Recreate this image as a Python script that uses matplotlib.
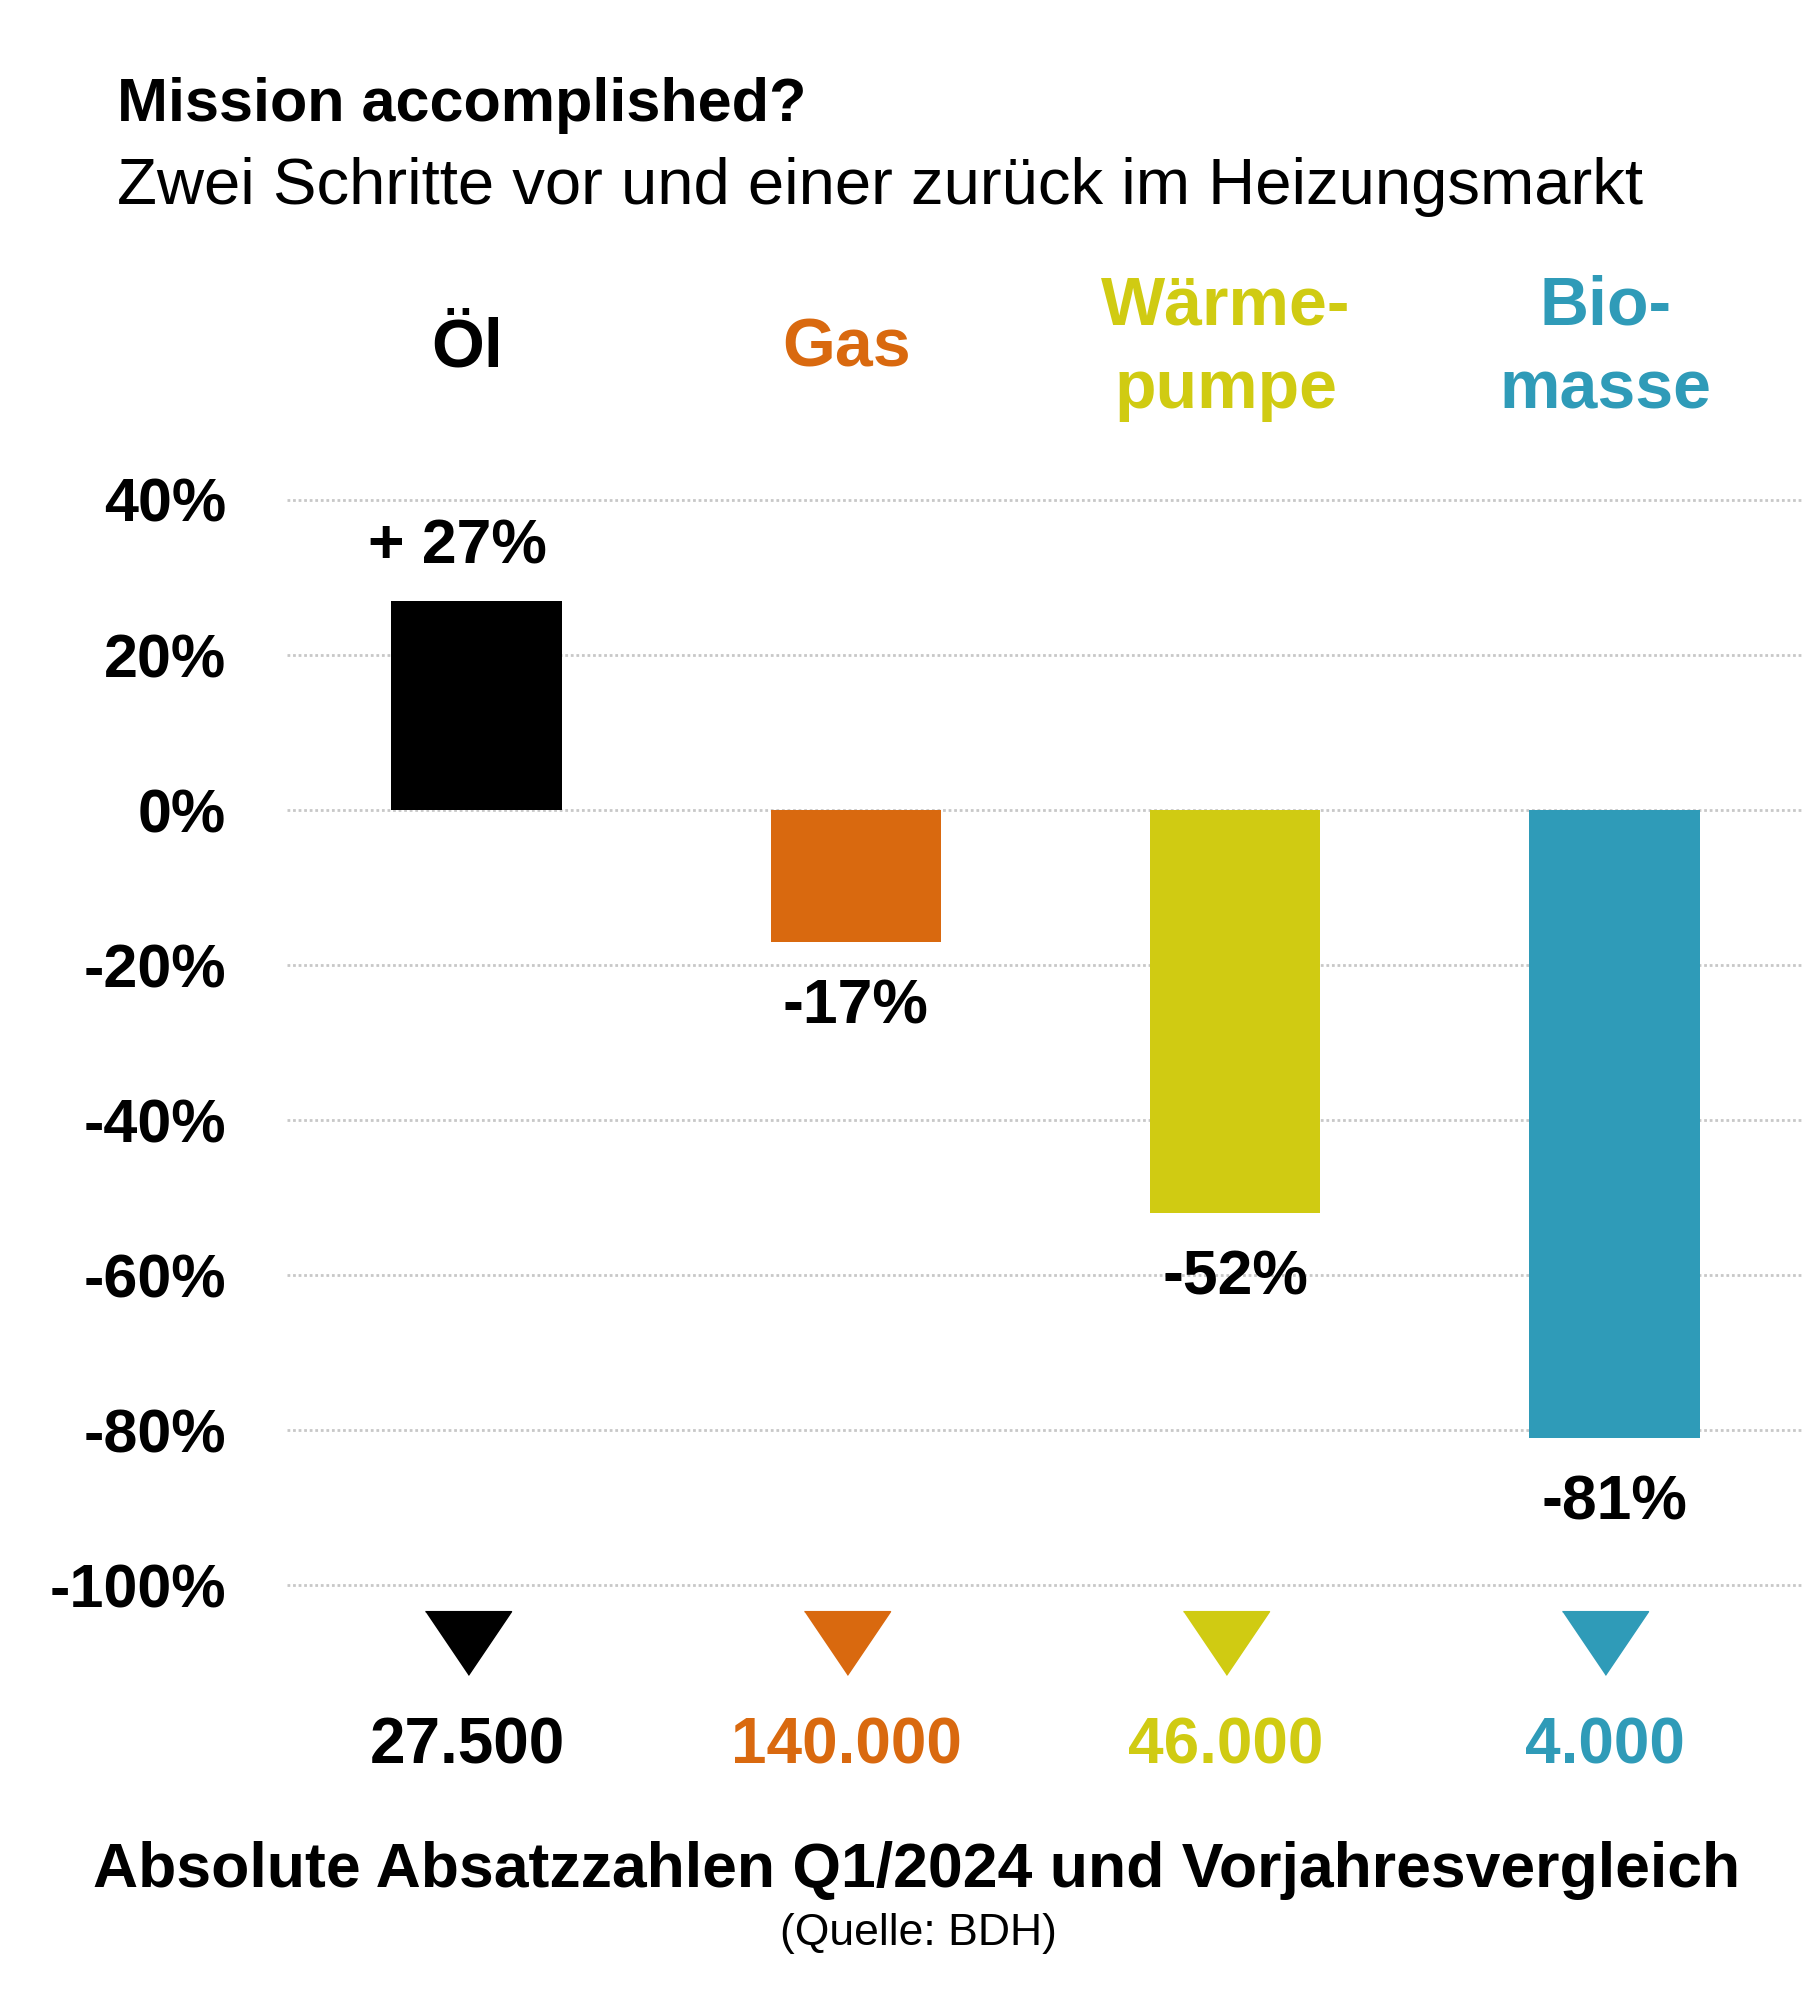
import matplotlib
matplotlib.use("Agg")
import matplotlib.pyplot as plt

plt.rcParams['font.family'] = ['Liberation Sans', 'DejaVu Sans']

# data
categories = ['Öl', 'Gas', 'Wärme-\npumpe', 'Bio-\nmasse']
change_pct = [27, -17, -52, -81]
change_labels = ['+ 27%', '-17%', '-52%', '-81%']
sales_q1_2024 = ['27.500', '140.000', '46.000', '4.000']
colors = ['#000000', '#D9690F', '#D0CB12', '#2F9BB8']
yticks = [40, 20, 0, -20, -40, -60, -80, -100]
ytick_labels = ['40%', '20%', '0%', '-20%', '-40%', '-60%', '-80%', '-100%']

fig = plt.figure(figsize=(18.04, 20), dpi=100)
ax = fig.add_axes([287 / 1804, 0.15, 1 - 287 / 1804, 0.70])

x = list(range(len(categories)))
ax.set_xlim(-0.5, 3.5)
ax.set_ylim(-114.8, 65.8)

# dotted gridlines
for t in yticks:
    ax.axhline(t, color='#c8c8c8', lw=2, ls=(0, (1, 1)), zorder=0)

ax.bar(x, change_pct, width=0.45, color=colors, zorder=2)

# value labels
for xi, v, lab in zip(x, change_pct, change_labels):
    off = (-14, 39) if v > 0 else (0, -47)
    ax.annotate(lab, (xi, v), xytext=off, textcoords='offset points',
                ha='center', va='center', fontsize=45, fontweight='bold')

# headers, triangles and absolute numbers sit slightly left of bar centres
shift = -0.024
tri = [(-1, 0.74), (1, 0.74), (0, -0.74)]
for xi, cat, n, c in zip(x, categories, sales_q1_2024, colors):
    ax.text(xi + shift, 59.6, cat, ha='center', va='center', fontsize=49,
            fontweight='bold', color=c, linespacing=1.4, clip_on=False)
    ax.plot(xi + shift, -107.4, marker=tri, markersize=62, color=c,
            ls='none', clip_on=False)
    ax.text(xi + shift, -120.8, n, ha='center', va='center', fontsize=46,
            fontweight='bold', color=c, clip_on=False)

ax.set_xticks([])
ax.set_yticks(yticks)
ax.set_yticklabels(ytick_labels, fontsize=44, fontweight='bold')
ax.tick_params(axis='y', length=0, pad=44)
for s in ax.spines.values():
    s.set_visible(False)

fig.text(117 / 1804, 1 - 121 / 2000, 'Mission accomplished?', fontsize=44,
         fontweight='bold', ha='left', va='baseline')
fig.text(117 / 1804, 1 - 204 / 2000,
         'Zwei Schritte vor und einer zurück im Heizungsmarkt',
         fontsize=47, ha='left', va='baseline')
fig.text(0.508, 1 - 1870 / 2000,
         'Absolute Absatzzahlen Q1/2024 und Vorjahresvergleich',
         fontsize=45, fontweight='bold', ha='center', va='center')
fig.text(0.509, 1 - 1934 / 2000, '(Quelle: BDH)', fontsize=32,
         ha='center', va='center')

fig.savefig('out.png', dpi=100, facecolor='white')
